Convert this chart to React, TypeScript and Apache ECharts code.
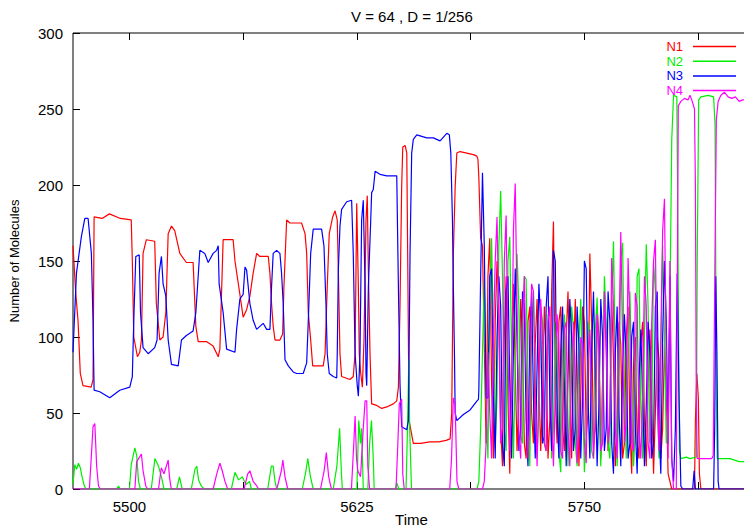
import React, { useEffect, useRef } from "react";
import * as echarts from "echarts";

// Chart text
const TITLE = "V = 64 , D = 1/256";
const X_NAME = "Time";
const Y_NAME = "Number of Molecules";
const SERIES_NAMES = ["N1", "N2", "N3", "N4"];
const SERIES_COLORS = ["#ff0000", "#00ee00", "#0000ff", "#ff00ff"];

// Axis range and ticks
const X_MIN = 5469;
const X_MAX = 5841;
const X_TICKS = [5500, 5562.5, 5625, 5687.5, 5750, 5812.5];
const X_LABELS = [5500, 5625, 5750];
const Y_MIN = 0;
const Y_MAX = 300;
const Y_STEP = 50;

// N1: [time, molecules] before the oscillating phase
const n1Early: number[][] = [
  [5469, 160], [5470.5, 129], [5471.8, 110], [5473, 76], [5474.5, 68], [5479, 67], [5480, 72],
  [5480.6, 179], [5485, 178], [5489, 181], [5495, 178], [5501, 177], [5501.6, 150], [5502.4, 100],
  [5504.4, 87], [5505.7, 90], [5506.6, 98], [5507.5, 155], [5509.3, 164], [5513.9, 163],
  [5514.8, 122], [5516.7, 98], [5518.5, 100], [5520, 116], [5521.3, 168], [5523.1, 173],
  [5524.9, 170], [5527.7, 155], [5531.3, 149], [5535, 149], [5536.5, 107], [5537.8, 97],
  [5542.3, 97], [5546, 94], [5548.8, 87], [5549.7, 92], [5551.5, 164], [5557, 164], [5558, 150],
  [5560.7, 128], [5562.5, 113], [5564.4, 118], [5566.2, 127], [5568, 142], [5569.9, 155],
  [5571.7, 153], [5576.3, 153], [5577.2, 142], [5578.1, 122], [5579, 107], [5580, 98],
  [5582.7, 98], [5584.2, 102], [5584.9, 133], [5586.4, 177], [5588.2, 175], [5594.6, 175],
  [5596.5, 168], [5597.4, 155], [5598.3, 116], [5599.6, 98], [5600.7, 81], [5606.5, 81],
  [5607.5, 89], [5608.7, 133], [5609.8, 168], [5611.7, 179], [5613, 183], [5614.2, 177],
  [5614.8, 144], [5615.7, 89], [5616.6, 74], [5621.2, 72], [5623, 74], [5624, 89], [5624.9, 188],
  [5625.8, 133], [5626.3, 89], [5627.1, 76], [5628, 67], [5628.9, 98], [5630, 177], [5630.7, 193],
  [5631.3, 144], [5632.2, 89], [5633.1, 56], [5635.9, 55], [5638.6, 53], [5641.4, 54], [5645, 56],
  [5646.9, 58], [5647.8, 67], [5648.7, 122], [5649.6, 199], [5650.2, 225], [5651.5, 226],
  [5652.4, 221], [5652.9, 155], [5653.3, 98], [5653.7, 45], [5654.6, 39], [5656, 30], [5660, 30],
  [5665, 31], [5670, 31], [5674, 32], [5676.2, 33], [5677.1, 50], [5678, 155], [5679, 199],
  [5679.9, 221], [5681.7, 222], [5685.4, 221], [5689, 220], [5690.9, 219], [5691.5, 217],
];

// Oscillating phase: one value per time unit from OSC_START
const OSC_START = 5692;
const n1Osc = [
  205, 165, 160, 95, 30, 140, 165, 70, 20, 110,
  150, 120, 40, 15, 100, 140, 60, 10, 90, 135,
  80, 25, 60, 125, 100, 30, 20, 110, 120, 50,
  30, 95, 125, 70, 25, 60, 120, 90, 20, 45,
  130, 176, 60, 30, 110, 120, 40, 25, 100, 130,
  70, 20, 85, 125, 80, 15, 60, 120, 110, 35,
  50, 155, 110, 30, 40, 120, 100, 20, 70, 130,
  90, 25, 45, 125, 85, 15, 40, 110, 95, 20,
  30, 100, 120, 40, 10, 80, 100, 30, 20, 95,
  110, 45, 15, 70, 105, 60, 10, 50, 100, 85,
  20, 40, 95, 60, 10, 5,
];
const n1Late: number[][] = [
  [5798, 0], [5810.5, 0], [5811, 45], [5811.8, 76], [5812.6, 60], [5813.2, 10], [5814, 0], [5841, 0],
];

// N2
const n2Early: number[][] = [
  [5469, 3], [5470, 16], [5471, 13], [5472, 17], [5473, 14], [5474, 8], [5475, 3], [5476, 0],
  [5493, 0], [5494, 2], [5495, 0], [5500, 0], [5501, 16], [5503, 27], [5504, 22], [5505, 5],
  [5506, 0], [5512, 0], [5514, 20], [5516, 15], [5518, 6], [5519, 0], [5526, 0], [5527.5, 8],
  [5529, 0], [5534, 0], [5536, 13], [5537, 15], [5538, 6], [5539.5, 2], [5541, 0], [5556, 0],
  [5558, 11], [5560, 6], [5562, 8], [5564, 3], [5566, 5], [5567, 0], [5576, 0], [5578, 15],
  [5579, 15], [5580, 5], [5581, 0], [5595, 0], [5597, 12], [5598, 20], [5599.5, 8], [5601, 0],
  [5612, 0], [5614, 15], [5615.5, 40], [5616.5, 10], [5617, 0], [5625, 0], [5626, 45], [5627, 30],
  [5627.6, 40], [5628.5, 0], [5631, 0], [5632, 30], [5633, 45], [5634, 20], [5634.5, 0],
  [5646, 0], [5647, 4], [5648, 0], [5652, 0], [5653, 50], [5653.5, 85], [5654, 40], [5655, 0],
  [5691, 0],
];
const n2Osc = [
  5, 40, 90, 137, 60, 20, 120, 165, 100, 30,
  60, 160, 196, 140, 40, 25, 150, 166, 90, 20,
  80, 155, 120, 35, 30, 140, 138, 60, 15, 100,
  130, 75, 20, 50, 120, 110, 30, 25, 115, 95,
  20, 40, 110, 100, 25, 11, 90, 115, 60, 15,
  50, 120, 105, 30, 15, 95, 125, 70, 11, 40,
  110, 100, 25, 20, 105, 126, 60, 15, 70, 140,
  110, 30, 20, 120, 163, 80, 15, 60, 150, 162,
  70, 20, 90, 130, 80, 15, 40, 140, 145, 60,
  20, 100, 161, 120, 30, 40, 150, 130, 60, 20,
  90, 160, 100, 30, 60, 120,
];
const n2Late: number[][] = [
  [5798, 230], [5799, 259], [5800.8, 258], [5801.5, 150], [5802.2, 25], [5803, 20], [5806, 21],
  [5808, 20], [5811.5, 21], [5812, 150], [5812.8, 256], [5814, 258], [5818, 259], [5821, 258],
  [5821.8, 240], [5822.5, 60], [5823, 20], [5830, 20], [5835, 18], [5841, 18],
];

// N3
const n3Early: number[][] = [
  [5469, 90], [5470.9, 142], [5473.6, 166], [5475.5, 178], [5477.3, 178], [5479.1, 155],
  [5480, 111], [5480.6, 65], [5483.7, 64], [5489.2, 60], [5494.7, 65], [5500.2, 67],
  [5501.6, 74], [5502.4, 111], [5503.5, 153], [5505.4, 154], [5506.1, 116], [5507.5, 93],
  [5510.3, 89], [5513.9, 93], [5515.2, 98], [5516.3, 142], [5517.6, 153], [5518.5, 135],
  [5520, 127], [5521.3, 98], [5523.1, 82], [5526.8, 81], [5528.6, 98], [5531.3, 101],
  [5535, 104], [5536.5, 116], [5538.7, 157], [5541.4, 155], [5543.3, 149], [5546, 155],
  [5547.9, 157], [5548.8, 160], [5549.3, 135], [5551.5, 116], [5553.4, 92], [5558, 90],
  [5558.9, 105], [5560.7, 125], [5562.5, 128], [5563.5, 146], [5564.4, 144], [5566.2, 122],
  [5568, 111], [5569.9, 105], [5571.7, 107], [5573.5, 109], [5575.4, 105], [5577.2, 105],
  [5578.1, 133], [5579, 155], [5580.9, 157], [5582.7, 155], [5583.6, 142], [5584.5, 122],
  [5585.5, 85], [5587.3, 81], [5590, 77], [5591.9, 76], [5595.5, 76], [5597.4, 83],
  [5598.3, 111], [5599.6, 155], [5601, 171], [5605.6, 171], [5606.9, 160], [5608, 122],
  [5608.7, 89], [5609.8, 76], [5612, 74], [5613.9, 73], [5614.2, 89], [5614.8, 144],
  [5615.7, 173], [5616.6, 184], [5619.4, 189], [5622.1, 190], [5623, 155], [5624, 89],
  [5625.2, 68], [5625.8, 61], [5626.7, 89], [5627.6, 177], [5628.5, 190], [5629.5, 133],
  [5630, 76], [5630.4, 68], [5631.3, 133], [5632.6, 177], [5633.1, 195], [5634, 197],
  [5635, 209], [5637.7, 207], [5641.4, 206], [5645, 206], [5646.9, 206], [5647.8, 133],
  [5648.7, 68], [5649.6, 41], [5652.4, 39], [5653.3, 45], [5654.2, 155], [5655.1, 221],
  [5656, 230], [5657.9, 233], [5663.4, 231], [5667, 231], [5670.7, 229], [5674.4, 234],
  [5675.8, 233], [5676.6, 221], [5677.5, 177], [5678, 133], [5678.6, 89], [5679, 50],
  [5679.9, 45], [5683.5, 49], [5687.2, 52], [5691, 58], [5691.8, 59],
];
const n3Osc = [
  65, 140, 208, 160, 60, 60, 140, 145, 60, 20,
  100, 140, 120, 30, 15, 130, 140, 70, 20, 90,
  145, 100, 25, 40, 130, 120, 45, 15, 100, 130,
  60, 20, 80, 135, 110, 30, 35, 120, 140, 60,
  25, 157, 150, 50, 20, 90, 120, 70, 15, 75,
  125, 100, 25, 40, 120, 95, 20, 60, 150, 145,
  60, 20, 90, 130, 75, 15, 55, 125, 100, 25,
  40, 130, 110, 30, 10, 90, 120, 50, 15, 80,
  115, 85, 20, 30, 100, 110, 40, 10, 70, 105,
  60, 15, 55, 110, 90, 20, 30, 120, 130, 40,
  10, 100, 150, 110, 30, 140,
];
const n3Late: number[][] = [
  [5798, 20], [5799, 5], [5800, 40], [5801, 142], [5802, 60], [5803, 2], [5804, 0],
  [5809.5, 0], [5810.3, 12], [5811, 0], [5821, 0], [5821.6, 40], [5822.2, 140],
  [5822.8, 90], [5823.5, 5], [5824, 0], [5841, 0],
];

// N4
const n4Early: number[][] = [
  [5469, 0], [5478, 0], [5479, 20], [5480, 41], [5481, 43], [5482, 15], [5483, 2], [5484, 0],
  [5503, 0], [5504, 18], [5506.6, 23], [5507.5, 12], [5509, 2], [5510, 0], [5516, 0],
  [5517.5, 14], [5519, 10], [5521.3, 19], [5522, 8], [5523, 0], [5546, 0], [5548, 10],
  [5549.7, 17], [5551, 12], [5552.5, 5], [5554, 0], [5563, 0], [5565, 10], [5566.2, 12],
  [5568, 5], [5570, 2], [5571, 0], [5581, 0], [5583.5, 12], [5584.3, 19], [5585.5, 8],
  [5587, 0], [5605, 0], [5607, 12], [5608.2, 24], [5609.5, 8], [5611, 0], [5622, 0],
  [5623.3, 30], [5624, 48], [5624.8, 20], [5625.5, 12], [5627, 8], [5628.5, 40], [5629.5, 58],
  [5630.4, 58], [5631, 15], [5632, 0], [5646.5, 0], [5647.5, 30], [5648.3, 56], [5649.6, 59],
  [5650.2, 10], [5651, 0], [5676, 0], [5677, 20], [5678, 60], [5679, 55], [5680, 5], [5681, 0],
  [5691, 0],
];
const n4Osc = [
  0, 0, 0, 5, 30, 90, 50, 20, 100, 150,
  179, 110, 30, 40, 150, 180, 90, 25, 60, 170,
  201, 120, 35, 20, 110, 140, 80, 20, 50, 135,
  130, 60, 15, 70, 125, 100, 30, 25, 110, 120,
  50, 15, 60, 115, 95, 25, 20, 105, 110, 40,
  15, 80, 110, 70, 17, 40, 100, 95, 30, 17,
  85, 105, 60, 20, 45, 115, 90, 25, 30, 130,
  100, 30, 45, 152, 120, 40, 20, 100, 169, 100,
  30, 45, 152, 110, 30, 25, 129, 120, 40, 20,
  60, 140, 120, 30, 20, 110, 150, 164, 60, 25,
  100, 170, 191, 80, 20, 150,
];
const n4Late: number[][] = [
  [5798, 20], [5799, 0], [5800.5, 0], [5801, 120], [5801.6, 252], [5803, 255], [5805, 257],
  [5807, 256], [5808, 259], [5809, 256], [5810.5, 250], [5811, 200], [5811.5, 60], [5812, 20],
  [5815, 20], [5820, 20], [5820.8, 22], [5821.5, 120], [5822.5, 243], [5823.5, 255],
  [5825, 259], [5827, 261], [5829, 258], [5831, 257], [5833, 258], [5835, 255], [5837, 256],
  [5841, 256],
];

const FONT = "Liberation Sans, Arial, sans-serif";

function joinSeries(early: number[][], osc: number[], late: number[][]): number[][] {
  const mid = osc.map((v, i) => [OSC_START + i, v]);
  return [...early, ...mid, ...late];
}

const SERIES_DATA = [
  joinSeries(n1Early, n1Osc, n1Late),
  joinSeries(n2Early, n2Osc, n2Late),
  joinSeries(n3Early, n3Osc, n3Late),
  joinSeries(n4Early, n4Osc, n4Late),
];

export default function App() {
  const ref = useRef<HTMLDivElement>(null);

  useEffect(() => {
    if (!ref.current) return;
    const chart = echarts.init(ref.current, undefined, { renderer: "svg" });

    const tickStyle = { color: "#000", width: 1 };
    const labelStyle = { color: "#000", fontSize: 15, fontFamily: FONT };

    chart.setOption({
      animation: false,
      backgroundColor: "#fff",
      textStyle: { fontFamily: FONT },
      title: {
        text: TITLE,
        left: 351,
        top: 9,
        padding: 0,
        textStyle: { fontSize: 15, fontWeight: "normal", color: "#000", fontFamily: FONT },
      },
      legend: {
        orient: "vertical",
        right: 8,
        top: 40,
        align: "right",
        icon: "rect",
        itemWidth: 43,
        itemHeight: 1.5,
        itemGap: 1.7,
        padding: 0,
        selectedMode: false,
        textStyle: { fontSize: 13, fontFamily: FONT, lineHeight: 13, padding: [0, 5, 0, 0] },
        data: SERIES_NAMES.map((name, i) => ({
          name,
          textStyle: { color: SERIES_COLORS[i] },
        })),
      },
      grid: {
        left: 73,
        top: 33,
        width: 677,
        height: 456,
        outerBoundsMode: "none",
        containLabel: false,
        show: true,
        borderColor: "#000",
        borderWidth: 1,
        backgroundColor: "transparent",
      },
      xAxis: [
        {
          type: "value",
          position: "bottom",
          min: X_MIN,
          max: X_MAX,
          axisLine: { show: false },
          splitLine: { show: false },
          axisTick: { show: true, inside: true, length: 7, customValues: X_TICKS, lineStyle: tickStyle },
          axisLabel: { ...labelStyle, margin: 10, customValues: X_LABELS, formatter: (v: number) => String(v) },
          name: X_NAME,
          nameLocation: "middle",
          nameGap: 23,
          nameMoveOverlap: false,
          nameTextStyle: { ...labelStyle, verticalAlign: "top" },
        },
        {
          type: "value",
          position: "top",
          min: X_MIN,
          max: X_MAX,
          axisLine: { show: false },
          splitLine: { show: false },
          axisTick: { show: true, inside: true, length: 7, customValues: X_TICKS, lineStyle: tickStyle },
          axisLabel: { show: false },
        },
      ],
      yAxis: {
        type: "value",
        min: Y_MIN,
        max: Y_MAX,
        interval: Y_STEP,
        axisLine: { show: false },
        splitLine: { show: false },
        axisTick: { show: true, inside: true, length: 7, lineStyle: tickStyle },
        axisLabel: { ...labelStyle, margin: 10 },
        name: Y_NAME,
        nameLocation: "middle",
        nameGap: 52,
        nameRotate: 90,
        nameMoveOverlap: false,
        nameTextStyle: { ...labelStyle, fontSize: 13 },
      },
      series: SERIES_NAMES.map((name, i) => ({
        name,
        type: "line",
        xAxisIndex: 0,
        data: SERIES_DATA[i],
        showSymbol: false,
        symbol: "none",
        clip: true,
        lineStyle: { color: SERIES_COLORS[i], width: 1.2 },
        itemStyle: { color: SERIES_COLORS[i] },
        emphasis: { disabled: true },
      })),
    });

    return () => chart.dispose();
  }, []);

  return (
    <div
      ref={ref}
      style={{ position: "fixed", left: 0, top: 0, width: 744, height: 529, background: "#fff" }}
    />
  );
}
